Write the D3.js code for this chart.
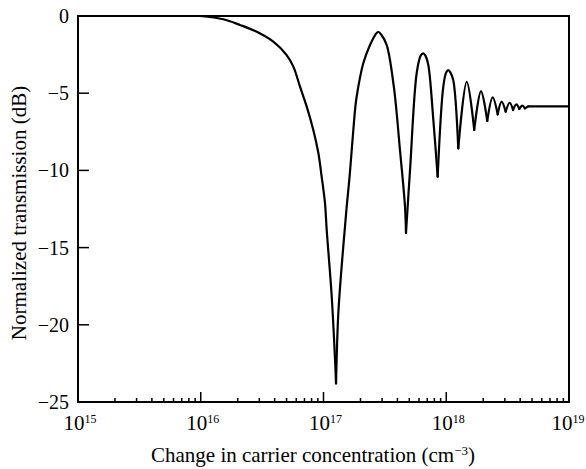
<!DOCTYPE html>
<html>
<head>
<meta charset="utf-8">
<script src="https://cdn.jsdelivr.net/npm/d3@7"></script>
<style>
  html, body { margin: 0; padding: 0; background: #fff; }
  svg { display: block; }
  text { font-family: "Liberation Serif", "Times New Roman", serif; fill: #000; }
</style>
</head>
<body>
<svg id="chart" width="586" height="469"></svg>
<script>
// ---- data ----
const concentration = [
  9.86e15, 1.53e16, 2.09e16, 2.86e16, 3.90e16, 5.01e16, 5.68e16, 6.44e16, 7.30e16, 8.26e16,
  9.08e16, 9.66e16, 1.028e17, 1.062e17, 1.167e17, 1.242e17, 1.265e17, 1.321e17, 1.449e17, 1.545e17,
  1.622e17, 1.807e17, 1.862e17, 2.109e17, 2.393e17, 2.65e17, 2.793e17, 2.95e17, 3.273e17, 3.74e17,
  4.198e17, 4.613e17, 4.699e17, 5.07e17, 5.741e17, 6.20e17, 6.50e17, 6.80e17, 7.145e17, 7.852e17,
  8.511e17, 9.462e17, 1.00e18, 1.040e18, 1.08e18, 1.140e18, 1.253e18, 1.469e18, 1.690e18, 1.919e18,
  2.158e18, 2.388e18, 2.624e18, 2.825e18, 3.048e18, 3.289e18, 3.499e18, 3.724e18, 3.936e18, 4.169e18,
  4.375e18, 4.656e18, 1e19
];
const transmission = [
  0, -0.21, -0.58, -1.02, -1.66, -2.53, -3.28, -4.58, -5.87, -7.38,
  -8.87, -10.41, -12.11, -13.86, -18.18, -22.28, -23.8, -19.24, -14.94, -12.35,
  -10.62, -6.09, -5.23, -3.06, -1.88, -1.2, -1.02, -1.2, -1.88, -4.58,
  -8.68, -12.35, -14.05, -9.97, -3.71, -2.55, -2.42, -2.6, -3.17, -6.74,
  -10.41, -4.58, -3.65, -3.50, -3.65, -4.15, -8.57, -4.26, -7.38, -4.86,
  -6.80, -5.27, -6.37, -5.55, -6.20, -5.62, -6.09, -5.72, -6.02, -5.81,
  -5.98, -5.85, -5.85
];
const yTicks = [0, -5, -10, -15, -20, -25];
const xMajorExponents = [15, 16, 17, 18, 19];
const xLabel = "Change in carrier concentration (cm";
const xLabelSup = "\u22123";
const xLabelTail = ")";
const yLabel = "Normalized transmission (dB)";

// ---- layout ----
const W = 586, H = 469;
const margin = { left: 78, right: 17, top: 16, bottom: 67 };
const iw = W - margin.left - margin.right;
const ih = H - margin.top - margin.bottom;

const svg = d3.select("#chart");
const g = svg.append("g").attr("transform", `translate(${margin.left},${margin.top})`);

const x = d3.scaleLog().domain([1e15, 1e19]).range([0, iw]);
const y = d3.scaleLinear().domain([-25, 0]).range([ih, 0]);

// frame
g.append("rect")
  .attr("x", 0).attr("y", 0).attr("width", iw).attr("height", ih)
  .attr("fill", "none").attr("stroke", "#000").attr("stroke-width", 2);

// x ticks (inward): majors and minors
const xMinor = [];
for (let e = 15; e < 19; e++) for (let m = 2; m <= 9; m++) xMinor.push(m * Math.pow(10, e));
const xMajor = xMajorExponents.map(e => Math.pow(10, e));

g.selectAll(".xminor").data(xMinor).enter().append("line")
  .attr("x1", d => x(d)).attr("x2", d => x(d))
  .attr("y1", ih).attr("y2", ih - 4)
  .attr("stroke", "#000").attr("stroke-width", 1.5);
g.selectAll(".xmajor").data(xMajor).enter().append("line")
  .attr("x1", d => x(d)).attr("x2", d => x(d))
  .attr("y1", ih).attr("y2", ih - 10)
  .attr("stroke", "#000").attr("stroke-width", 1.5);

const xl = g.selectAll(".xlab").data(xMajorExponents).enter().append("text")
  .attr("x", (d, i) => x(Math.pow(10, d)) + (i === xMajorExponents.length - 1 ? -1 : 2))
  .attr("y", ih + 28)
  .attr("text-anchor", "middle")
  .style("font-size", "21px");
xl.append("tspan").text("10");
xl.append("tspan").text(d => d).attr("dy", -7).style("font-size", "12px");

// y ticks (inward, left only)
g.selectAll(".ytick").data(yTicks).enter().append("line")
  .attr("x1", 0).attr("x2", 11)
  .attr("y1", d => y(d)).attr("y2", d => y(d))
  .attr("stroke", "#000").attr("stroke-width", 1.5);
g.selectAll(".ylab").data(yTicks).enter().append("text")
  .attr("x", -9)
  .attr("y", d => y(d))
  .attr("dy", "0.35em")
  .attr("text-anchor", "end")
  .style("font-size", "20px")
  .text(d => d3.format("d")(d));

// axis titles
const xt = svg.append("text")
  .attr("x", 313)
  .attr("y", 462)
  .attr("text-anchor", "middle")
  .style("font-size", "21px");
xt.append("tspan").text(xLabel);
xt.append("tspan").text(xLabelSup).attr("dy", -7).style("font-size", "13px");
xt.append("tspan").text(xLabelTail).attr("dy", 7);

svg.append("text")
  .attr("transform", `translate(26,${margin.top + ih / 2 + 4}) rotate(-90)`)
  .attr("text-anchor", "middle")
  .style("font-size", "21px")
  .text(yLabel);

// curve: smooth lobes, sharp cusps at each dip, straight flat tail
const pts = concentration.map((c, i) => [c, transmission[i]]);
const cuts = [0];
for (let i = 1; i < pts.length - 1; i++) {
  const isDip = pts[i][1] < pts[i - 1][1] && pts[i][1] < pts[i + 1][1];
  const flatStart = pts[i][1] === pts[i + 1][1];
  if (isDip || flatStart) cuts.push(i);
}
cuts.push(pts.length - 1);
const segments = [];
for (let k = 0; k < cuts.length - 1; k++) segments.push(pts.slice(cuts[k], cuts[k + 1] + 1));

const line = d3.line().x(d => x(d[0])).y(d => y(d[1])).curve(d3.curveCatmullRom.alpha(0.5));
g.selectAll(".seg").data(segments).enter().append("path")
  .attr("fill", "none")
  .attr("stroke", "#000")
  .attr("stroke-width", 2.2)
  .attr("stroke-linejoin", "round")
  .attr("stroke-linecap", "round")
  .attr("d", line);
</script>
</body>
</html>
